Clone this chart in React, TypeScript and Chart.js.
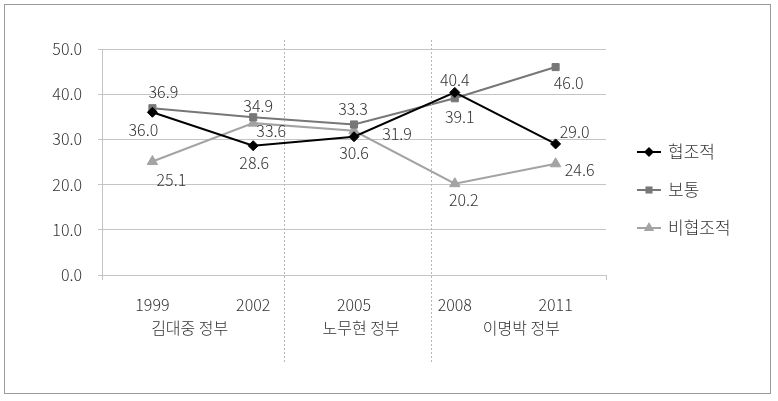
import React, { useEffect, useRef } from "react";
import { Chart, registerables } from "chart.js";

Chart.register(...registerables);

const years = ["1999", "2002", "2005", "2008", "2011"];
const seriesNames = ["협조적", "보통", "비협조적"];
const cooperative = [36.0, 28.6, 30.6, 40.4, 29.0];
const neutral = [36.9, 34.9, 33.3, 39.1, 46.0];
const uncooperative = [25.1, 33.6, 31.9, 20.2, 24.6];
const yTicks = [0, 10, 20, 30, 40, 50];
const governments = ["김대중 정부", "노무현 정부", "이명박 정부"];

// styling (not data)
const FONT = '"Noto Sans CJK KR", "Noto Sans", sans-serif';
const TEXT = "#333333";
const GRID = "#c4c4c4";
const seriesColors = ["#000000", "#777777", "#a3a3a3"];
const seriesPoints = ["rectRot", "rect", "triangle"];
const seriesRadius = [5, 5, 6];
// label offsets [dx, dy] from each point
const labelOffsets = [
  [[-9, 18], [1, 17], [0, 16], [0, -12], [19, -12]],
  [[11, -16], [5, -11], [-1, -16], [5, 19], [13, 16]],
  [[19, 18], [18, 8], [43, 3], [9, 16], [24, 6]],
];
// group label centers / separators as fractional category indices
const groupCenters = [0.37, 2.07, 3.66];
const separators = [1.31, 2.76];

function drawMarker(ctx: CanvasRenderingContext2D, style: string, r: number, x: number, y: number) {
  ctx.beginPath();
  if (style === "rectRot") {
    ctx.moveTo(x, y - r);
    ctx.lineTo(x + r, y);
    ctx.lineTo(x, y + r);
    ctx.lineTo(x - r, y);
  } else if (style === "rect") {
    const s = Math.SQRT1_2 * r;
    ctx.rect(x - s, y - s, 2 * s, 2 * s);
  } else {
    const w = r * Math.sqrt(3) * 0.5;
    ctx.moveTo(x, y - r);
    ctx.lineTo(x + w, y + r / 2);
    ctx.lineTo(x - w, y + r / 2);
  }
  ctx.closePath();
  ctx.fill();
}

const decor = {
  id: "decor",
  beforeDraw(chart: any) {
    const { ctx } = chart;
    ctx.save();
    ctx.fillStyle = "#ffffff";
    ctx.fillRect(0, 0, chart.width, chart.height);
    ctx.strokeStyle = "#9a9a9a";
    ctx.lineWidth = 1;
    ctx.strokeRect(4.5, 4.5, 766, 389);
    ctx.restore();
  },
  afterDatasetsDraw(chart: any) {
    const { ctx, chartArea } = chart;
    const x = chart.scales.x;
    ctx.save();
    // separators
    ctx.strokeStyle = "#b8b8b8";
    ctx.lineWidth = 1;
    ctx.setLineDash([2, 2]);
    separators.forEach((s) => {
      const px = Math.round(x.getPixelForValue(s)) + 0.5;
      ctx.beginPath();
      ctx.moveTo(px, 40);
      ctx.lineTo(px, 362);
      ctx.stroke();
    });
    ctx.setLineDash([]);
    // end ticks on x axis
    ctx.strokeStyle = GRID;
    [chartArea.left, chartArea.right].forEach((px) => {
      const p = Math.round(px) + 0.5;
      ctx.beginPath();
      ctx.moveTo(p, chartArea.bottom);
      ctx.lineTo(p, chartArea.bottom + 5);
      ctx.stroke();
    });
    // group labels
    ctx.fillStyle = TEXT;
    ctx.font = `300 16px ${FONT}`;
    ctx.textAlign = "center";
    ctx.textBaseline = "middle";
    governments.forEach((g, i) => {
      ctx.fillText(g, x.getPixelForValue(groupCenters[i]), 328);
    });
    // data labels
    chart.data.datasets.forEach((ds: any, di: number) => {
      const meta = chart.getDatasetMeta(di);
      meta.data.forEach((pt: any, i: number) => {
        const [dx, dy] = labelOffsets[di][i];
        ctx.fillText(Number(ds.data[i]).toFixed(1), pt.x + dx, pt.y + dy);
      });
    });
    // legend
    const lx = 637;
    const ly = [152, 190, 228];
    chart.data.datasets.forEach((ds: any, di: number) => {
      const y = ly[di];
      ctx.strokeStyle = ds.borderColor;
      ctx.lineWidth = 2;
      ctx.beginPath();
      ctx.moveTo(lx, y);
      ctx.lineTo(lx + 24, y);
      ctx.stroke();
      ctx.fillStyle = ds.borderColor;
      drawMarker(ctx, ds.pointStyle, ds.pointRadius, lx + 12, y);
      ctx.fillStyle = TEXT;
      ctx.font = `300 17px ${FONT}`;
      ctx.textAlign = "left";
      ctx.fillText(ds.label, lx + 31, y);
    });
    ctx.restore();
  },
};

export default function App() {
  const ref = useRef<HTMLCanvasElement>(null);
  useEffect(() => {
    document.body.style.margin = "0";
    const series = [cooperative, neutral, uncooperative];
    const chart = new Chart(ref.current!, {
      type: "line",
      data: {
        labels: years,
        datasets: series.map((d, i) => ({
          label: seriesNames[i],
          data: d,
          borderColor: seriesColors[i],
          backgroundColor: seriesColors[i],
          pointBackgroundColor: seriesColors[i],
          pointBorderColor: seriesColors[i],
          pointStyle: seriesPoints[i] as any,
          pointRadius: seriesRadius[i],
          pointBorderWidth: 1,
          borderWidth: 2,
          tension: 0,
        })),
      },
      options: {
        animation: false,
        responsive: false,
        devicePixelRatio: 1,
        layout: { padding: { top: 49, right: 172, left: 0, bottom: 0 } },
        plugins: { legend: { display: false }, tooltip: { enabled: false } },
        scales: {
          x: {
            type: "category",
            offset: true,
            grid: { display: false },
            border: { display: false },
            ticks: { color: TEXT, font: { family: FONT, size: 16, weight: "300" as any }, padding: 12, maxRotation: 0 },
            afterFit: (s: any) => {
              s.height = 126;
            },
          },
          y: {
            min: 0,
            max: 50,
            afterBuildTicks: (s: any) => {
              s.ticks = yTicks.map((v) => ({ value: v }));
            },
            grid: { color: GRID, tickLength: 4, lineWidth: 1 },
            border: { display: true, color: GRID },
            ticks: {
              color: TEXT,
              font: { family: FONT, size: 16, weight: "300" as any },
              padding: 16,
              callback: (v: any) => Number(v).toFixed(1),
            },
            afterFit: (s: any) => {
              s.width = 102;
            },
          },
        },
      },
      plugins: [decor],
    });
    return () => chart.destroy();
  }, []);
  return <canvas ref={ref} width={778} height={401} style={{ display: "block" }} />;
}
